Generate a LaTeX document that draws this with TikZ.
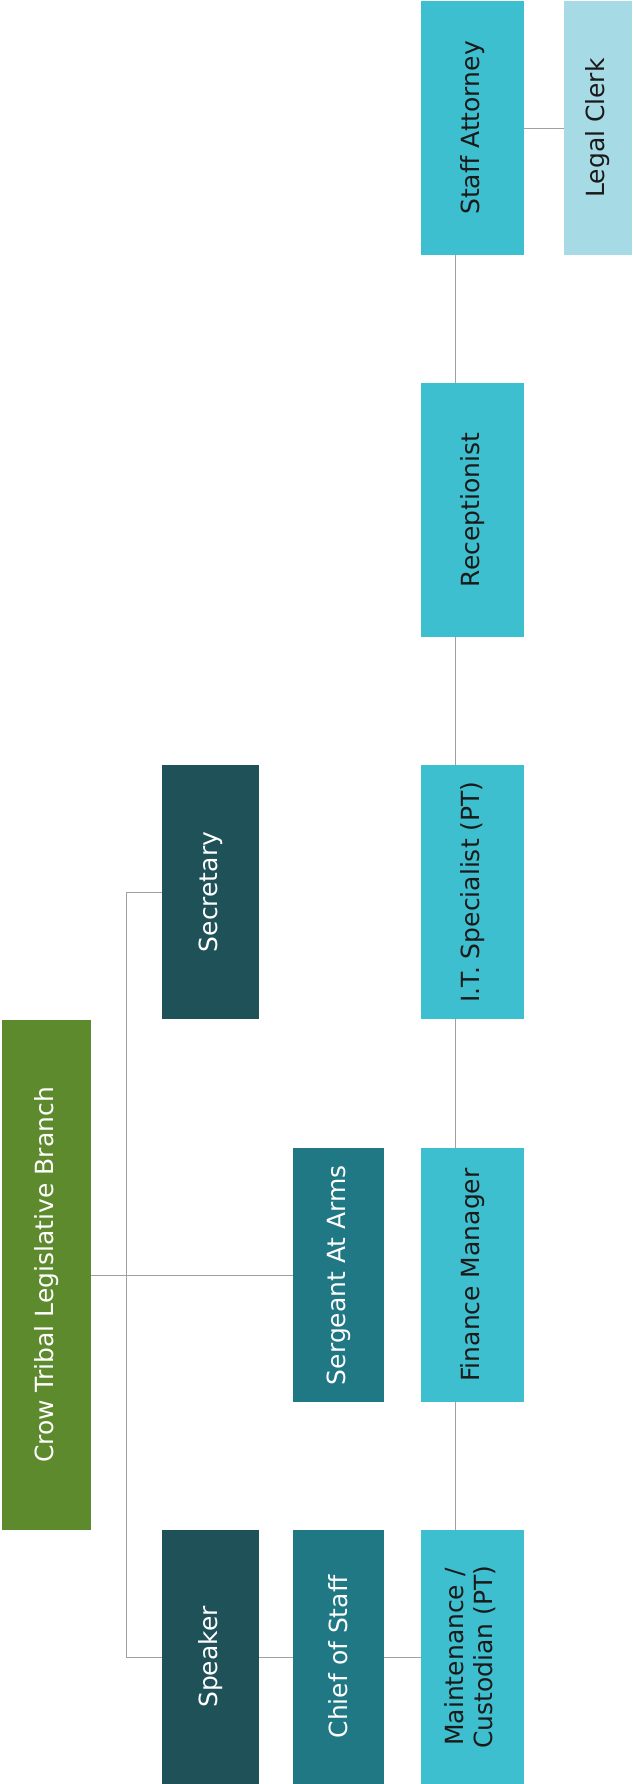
\documentclass[tikz,border=0pt]{standalone}
\usepackage{fontspec}
\usepackage{graphicx}
\setmainfont{DejaVu Sans}
\definecolor{cgreen}{HTML}{5E8A2E}
\definecolor{cdark}{HTML}{1F5159}
\definecolor{cmid}{HTML}{1F7884}
\definecolor{clight}{HTML}{3EBFCF}
\definecolor{cpale}{HTML}{A6DBE5}
\definecolor{cline}{HTML}{A0A0A0}
\definecolor{ctext}{HTML}{1A1A1A}
\tikzset{
  box/.style={rectangle, inner sep=0pt, outer sep=0pt, minimum height=254pt,
    font=\fontsize{25}{29}\selectfont, align=center},
  dkbox/.style={box, fill=cdark, text=white},
  mdbox/.style={box, fill=cmid, text=white},
  ltbox/.style={box, fill=clight, text=ctext, minimum width=103pt},
  plbox/.style={box, fill=cpale, text=ctext, minimum width=68pt},
  conn/.style={draw=cline, line width=0.8pt}
}
\newcommand{\rt}[1]{\rotatebox{90}{#1}}
\begin{document}
\begin{tikzpicture}[x=1pt,y=-1pt]
\useasboundingbox[fill=white] (0,0) rectangle (632,1784);
% nodes
\node[box, fill=cgreen, text=white, minimum width=89pt, minimum height=510pt] (crow) at (46.5,1275) {\rt{Crow Tribal Legislative Branch}};
\node[ltbox] (sa) at (472.5,128) {\rt{Staff Attorney}};
\node[plbox] (lc) at (598,128) {\rt{Legal Clerk}};
\node[ltbox] (rec) at (472.5,510) {\rt{Receptionist}};
\node[dkbox, minimum width=97pt] (sec) at (210.5,892) {\rt{Secretary}};
\node[ltbox] (it) at (472.5,892) {\rt{I.T. Specialist (PT)}};
\node[mdbox, minimum width=91pt] (sgt) at (338.5,1275) {\rt{Sergeant At Arms}};
\node[ltbox] (fin) at (472.5,1275) {\rt{Finance Manager}};
\node[dkbox, minimum width=97pt] (spk) at (210.5,1657) {\rt{Speaker}};
\node[mdbox, minimum width=91pt] (cos) at (338.5,1657) {\rt{Chief of Staff}};
\node[ltbox] (mnt) at (472.5,1657) {\rt{\begin{tabular}{@{}c@{}}Maintenance /\\Custodian (PT)\end{tabular}}};
% connectors
\coordinate (tt) at (126,892);
\coordinate (tb) at (126,1657);
\draw[conn] (sec.west) -- (tt) -- (tb) -- (spk.west);
\draw[conn] (crow.east) -- (sgt.west);
\draw[conn] (spk.east) -- (cos.west);
\draw[conn] (cos.east) -- (mnt.west);
\draw[conn] (sa.east) -- (lc.west);
\draw[conn] ([xshift=-17.5pt]sa.south) -- ([xshift=-17.5pt]rec.north);
\draw[conn] ([xshift=-17.5pt]rec.south) -- ([xshift=-17.5pt]it.north);
\draw[conn] ([xshift=-17.5pt]it.south) -- ([xshift=-17.5pt]fin.north);
\draw[conn] ([xshift=-17.5pt]fin.south) -- ([xshift=-17.5pt]mnt.north);
\end{tikzpicture}
\end{document}
